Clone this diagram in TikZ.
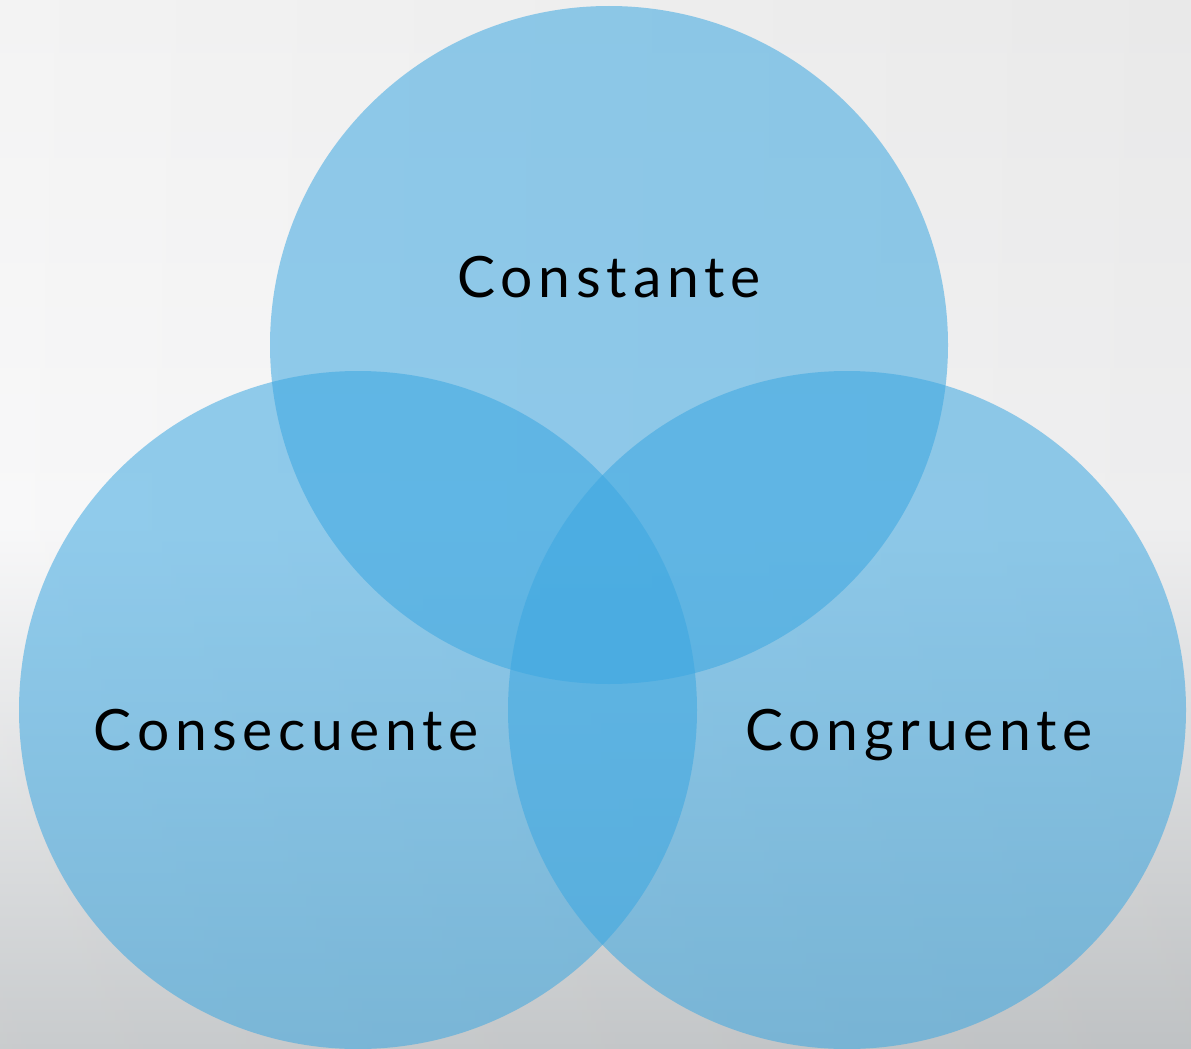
\documentclass[tikz,border=0pt]{standalone}
\usepackage{fontspec}
\setmainfont[LetterSpace=10]{Lato}
\definecolor{bgtop}{RGB}{243,243,243}
\definecolor{bgmid}{RGB}{248,248,249}
\definecolor{bgbot}{RGB}{199,202,204}
\definecolor{vennblue}{RGB}{60,167,225}
\tikzset{
  venn/.style={circle, minimum size=678pt, inner sep=0pt, fill=vennblue, fill opacity=0.55, draw=none},
  lbl/.style={anchor=base, font=\fontsize{57}{60}\selectfont, text=black}
}
\begin{document}
\begin{tikzpicture}[x=1pt,y=-1pt]
\useasboundingbox (0,0) rectangle (1191,1049);
\shade[top color=bgtop, bottom color=bgbot, middle color=bgmid] (0,0) rectangle (1191,1049);
\shade[left color=white, right color=black, opacity=0.04] (0,0) rectangle (1191,1049);
\node[venn] (top) at (609,345) {};
\node[venn] (left) at (358,710) {};
\node[venn] (right) at (847,710) {};
\node[lbl] (ltop) at (609,297) {Constante};
\node[lbl] (lleft) at (286,750) {Consecuente};
\node[lbl] (lright) at (919,750) {Congruente};
\end{tikzpicture}
\end{document}
